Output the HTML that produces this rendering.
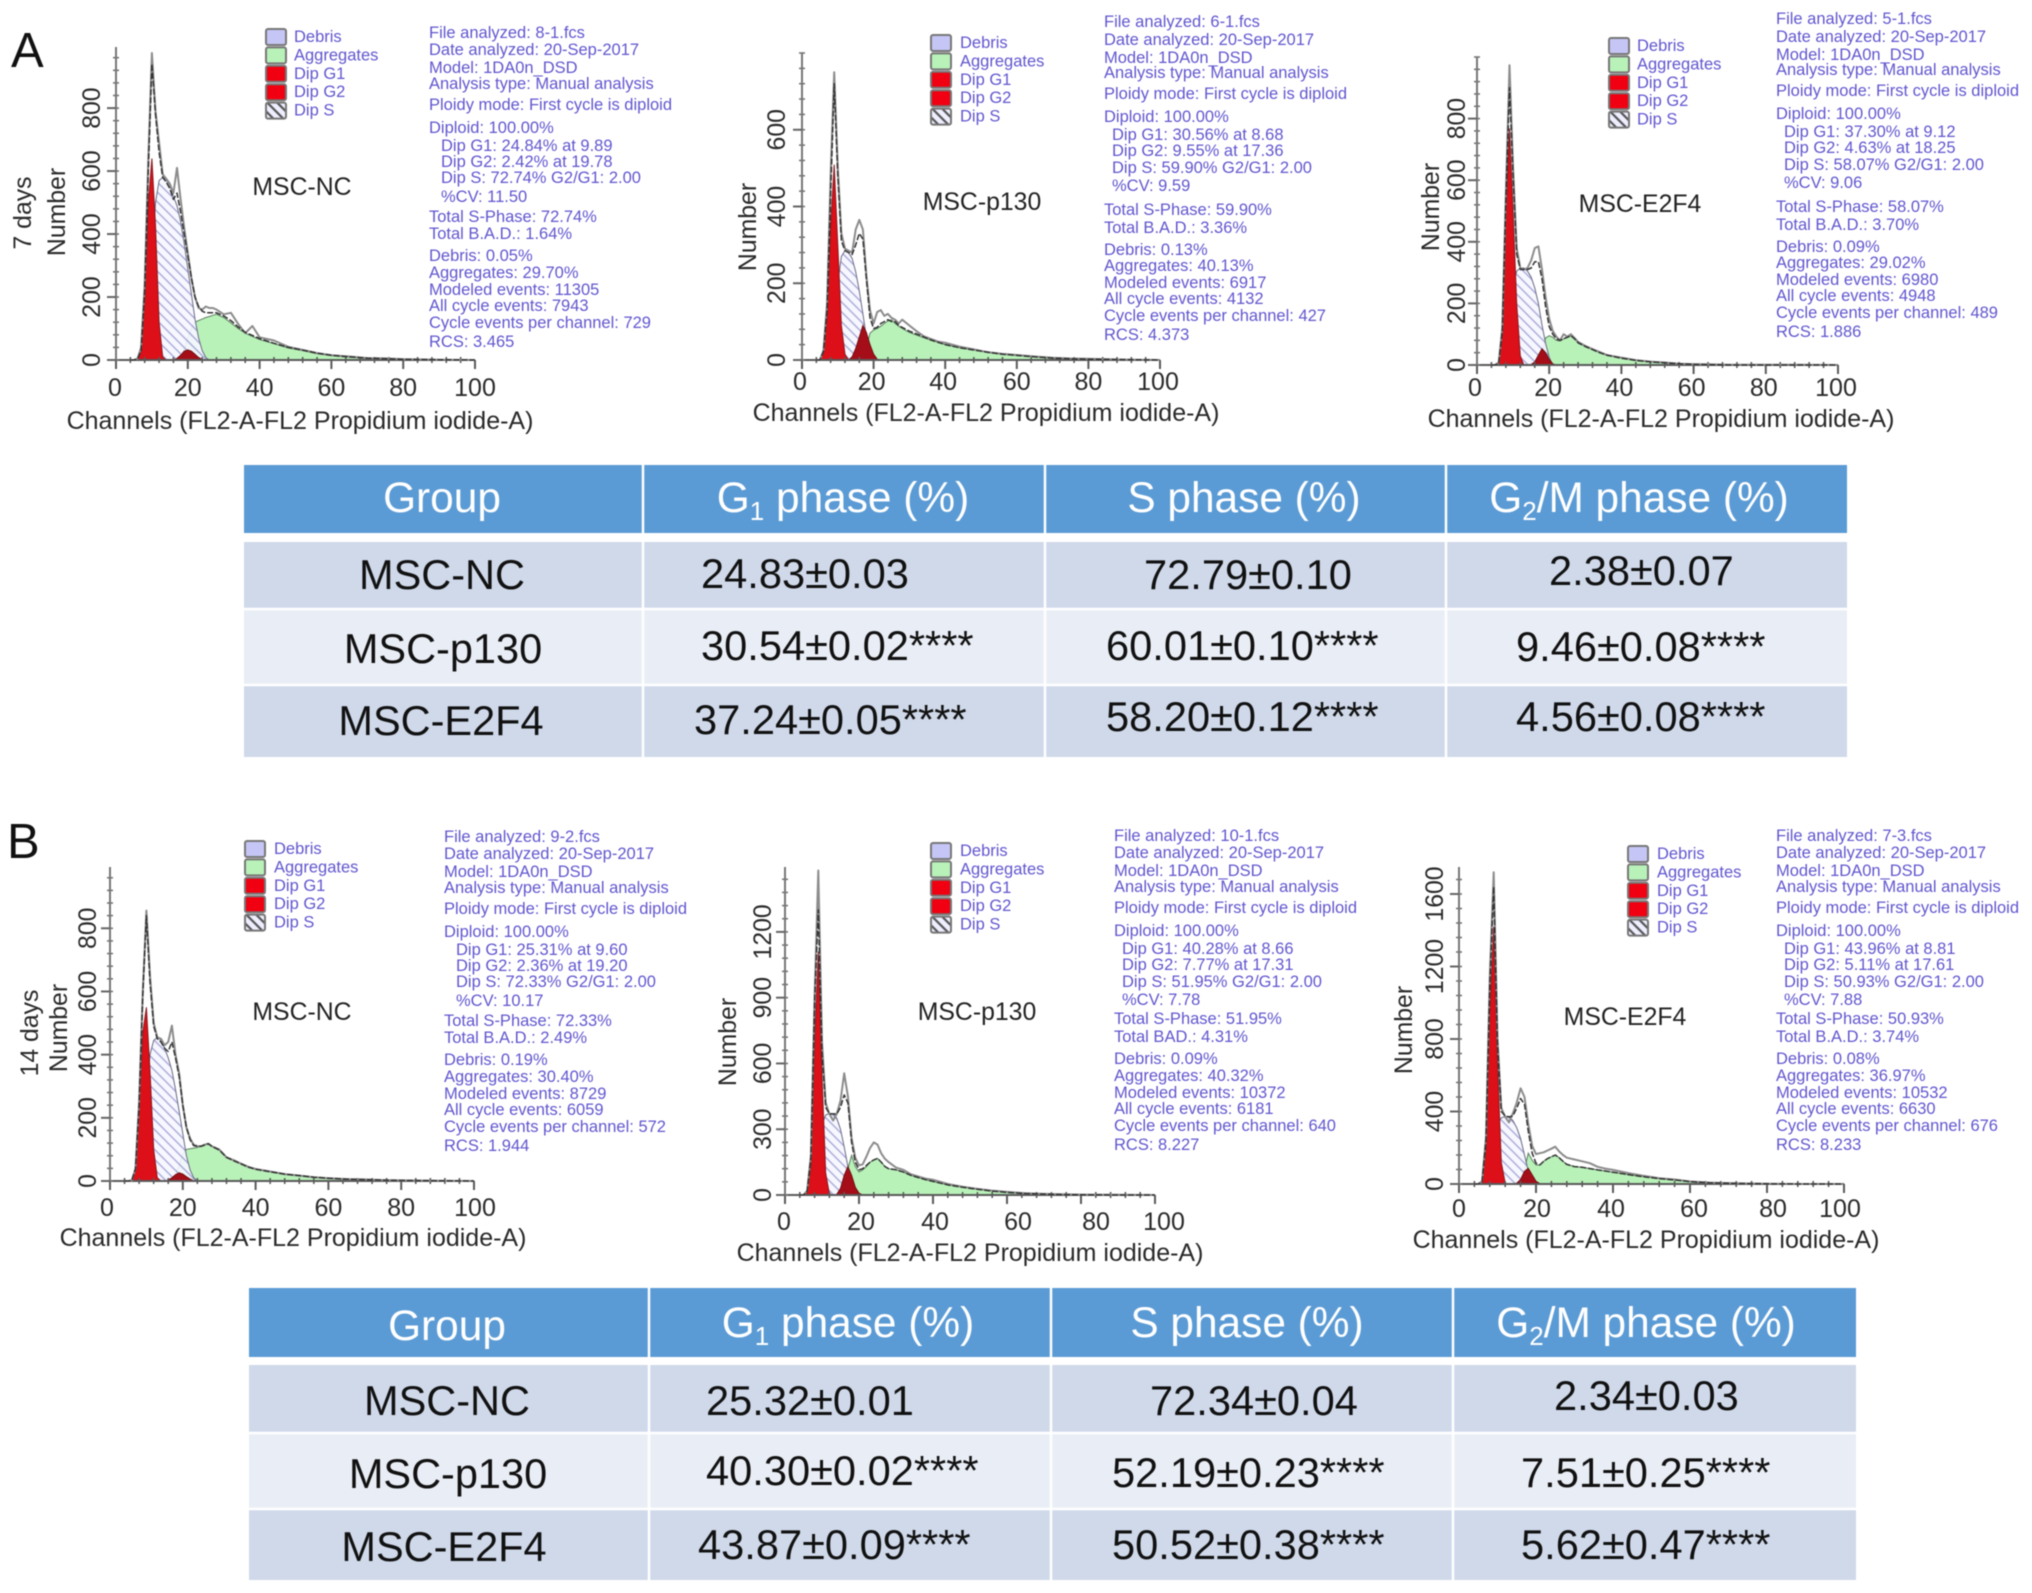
<!DOCTYPE html>
<html lang="en">
<head>
<meta charset="utf-8">
<title>Cell cycle flow cytometry panels</title>
<style>
html,body{margin:0;padding:0;background:#fff;}
svg{display:block;filter:blur(0.5px);font-family:"Liberation Sans",sans-serif;}
.info{font-size:16.5px;fill:#6156cf;}
.leg{font-size:16.5px;fill:#6156cf;}
.sw{stroke:#777;stroke-width:2;}
.name{font-size:24.8px;fill:#222;text-anchor:middle;}
.xt{font-size:25px;fill:#2a2a2a;text-anchor:middle;}
.yt{font-size:24.8px;fill:#2a2a2a;text-anchor:middle;}
.letter{font-size:49px;fill:#111;}
.th{font-size:42.4px;fill:#fff;text-anchor:middle;}
.rowh{font-size:41.5px;fill:#111;text-anchor:middle;}
.val{font-size:41.6px;fill:#111;}
</style>
</head>
<body>
<svg xmlns="http://www.w3.org/2000/svg" width="2032" height="1593" viewBox="0 0 2032 1593">
<defs>
<pattern id="hatch" width="7" height="7" patternUnits="userSpaceOnUse" patternTransform="rotate(45)">
<rect width="7" height="7" fill="#f6f6ff"/>
<line x1="0" y1="3.5" x2="7" y2="3.5" stroke="#9c9cd2" stroke-width="1.3"/>
</pattern>
<pattern id="hatch-leg" width="7" height="7" patternUnits="userSpaceOnUse" patternTransform="rotate(45)">
<rect width="7" height="7" fill="#eeeeff"/>
<line x1="0" y1="3.5" x2="7" y2="3.5" stroke="#555" stroke-width="2.2"/>
</pattern>
</defs>

<text class="letter" x="11" y="67">A</text>
<text class="letter" x="7" y="858">B</text>

<!-- Panel A1 -->
<g>
<g id="marks-a1"></g>
<text class="name" x="302" y="195">MSC-NC</text>
<text class="yt" transform="translate(65,212) rotate(-90)">Number</text>
<text class="yt" transform="translate(31,213) rotate(-90)">7 days</text>
<text class="xt" x="300" y="429">Channels (FL2-A-FL2 Propidium iodide-A)</text>
<g transform="translate(266,37)">
<g><rect class="sw" y="-8" width="20" height="16" rx="2" fill="#c6c6f6"/><text class="leg" x="28" y="5">Debris</text></g>
<g><rect class="sw" y="10.4" width="20" height="16" rx="2" fill="#b9f2b9"/><text class="leg" x="28" y="23.4">Aggregates</text></g>
<g><rect class="sw" y="28.8" width="20" height="16" rx="2" fill="#f00010"/><text class="leg" x="28" y="41.8">Dip G1</text></g>
<g><rect class="sw" y="47.2" width="20" height="16" rx="2" fill="#f00010"/><text class="leg" x="28" y="60.2">Dip G2</text></g>
<g><rect class="sw" y="65.6" width="20" height="16" rx="2" fill="url(#hatch-leg)"/><text class="leg" x="28" y="78.6">Dip S</text></g>
</g>
<text class="info" transform="translate(429,38)">
<tspan x="0" y="0">File analyzed: 8-1.fcs</tspan>
<tspan x="0" y="17">Date analyzed: 20-Sep-2017</tspan>
<tspan x="0" y="35">Model: 1DA0n_DSD</tspan>
<tspan x="0" y="51">Analysis type: Manual analysis</tspan>
<tspan x="0" y="72">Ploidy mode: First cycle is diploid</tspan>
<tspan x="0" y="95">Diploid: 100.00%</tspan>
<tspan x="12" y="113">Dip G1: 24.84% at 9.89</tspan>
<tspan x="12" y="129">Dip G2: 2.42% at 19.78</tspan>
<tspan x="12" y="145">Dip S: 72.74% G2/G1: 2.00</tspan>
<tspan x="12" y="164">%CV: 11.50</tspan>
<tspan x="0" y="184">Total S-Phase: 72.74%</tspan>
<tspan x="0" y="201">Total B.A.D.: 1.64%</tspan>
<tspan x="0" y="223">Debris: 0.05%</tspan>
<tspan x="0" y="240">Aggregates: 29.70%</tspan>
<tspan x="0" y="257">Modeled events: 11305</tspan>
<tspan x="0" y="273">All cycle  events: 7943</tspan>
<tspan x="0" y="290">Cycle events per channel: 729</tspan>
<tspan x="0" y="309">RCS: 3.465</tspan>
</text>
</g>

<!-- Panel A2 -->
<g>
<g id="marks-a2"></g>
<text class="name" x="982" y="210">MSC-p130</text>
<text class="yt" transform="translate(756,227) rotate(-90)">Number</text>
<text class="xt" x="986" y="421">Channels (FL2-A-FL2 Propidium iodide-A)</text>
<g transform="translate(931,43)">
<g><rect class="sw" y="-8" width="20" height="16" rx="2" fill="#c6c6f6"/><text class="leg" x="29" y="5">Debris</text></g>
<g><rect class="sw" y="10.4" width="20" height="16" rx="2" fill="#b9f2b9"/><text class="leg" x="29" y="23.4">Aggregates</text></g>
<g><rect class="sw" y="28.8" width="20" height="16" rx="2" fill="#f00010"/><text class="leg" x="29" y="41.8">Dip G1</text></g>
<g><rect class="sw" y="47.2" width="20" height="16" rx="2" fill="#f00010"/><text class="leg" x="29" y="60.2">Dip G2</text></g>
<g><rect class="sw" y="65.6" width="20" height="16" rx="2" fill="url(#hatch-leg)"/><text class="leg" x="29" y="78.6">Dip S</text></g>
</g>
<text class="info" transform="translate(1104,27)">
<tspan x="0" y="0">File analyzed: 6-1.fcs</tspan>
<tspan x="0" y="18">Date analyzed: 20-Sep-2017</tspan>
<tspan x="0" y="36">Model: 1DA0n_DSD</tspan>
<tspan x="0" y="51">Analysis type: Manual analysis</tspan>
<tspan x="0" y="72">Ploidy mode: First cycle is diploid</tspan>
<tspan x="0" y="95">Diploid: 100.00%</tspan>
<tspan x="8" y="113">Dip G1: 30.56% at 8.68</tspan>
<tspan x="8" y="129">Dip G2: 9.55% at 17.36</tspan>
<tspan x="8" y="146">Dip S: 59.90% G2/G1: 2.00</tspan>
<tspan x="8" y="164">%CV: 9.59</tspan>
<tspan x="0" y="188">Total S-Phase: 59.90%</tspan>
<tspan x="0" y="206">Total B.A.D.: 3.36%</tspan>
<tspan x="0" y="228">Debris: 0.13%</tspan>
<tspan x="0" y="244">Aggregates: 40.13%</tspan>
<tspan x="0" y="261">Modeled events: 6917</tspan>
<tspan x="0" y="277">All cycle events: 4132</tspan>
<tspan x="0" y="294">Cycle events per channel: 427</tspan>
<tspan x="0" y="313">RCS: 4.373</tspan>
</text>
</g>

<!-- Panel A3 -->
<g>
<g id="marks-a3"></g>
<text class="name" x="1640" y="212">MSC-E2F4</text>
<text class="yt" transform="translate(1439,207) rotate(-90)">Number</text>
<text class="xt" x="1661" y="427">Channels (FL2-A-FL2 Propidium iodide-A)</text>
<g transform="translate(1609,46)">
<g><rect class="sw" y="-8" width="20" height="16" rx="2" fill="#c6c6f6"/><text class="leg" x="28" y="5">Debris</text></g>
<g><rect class="sw" y="10.4" width="20" height="16" rx="2" fill="#b9f2b9"/><text class="leg" x="28" y="23.4">Aggregates</text></g>
<g><rect class="sw" y="28.8" width="20" height="16" rx="2" fill="#f00010"/><text class="leg" x="28" y="41.8">Dip G1</text></g>
<g><rect class="sw" y="47.2" width="20" height="16" rx="2" fill="#f00010"/><text class="leg" x="28" y="60.2">Dip G2</text></g>
<g><rect class="sw" y="65.6" width="20" height="16" rx="2" fill="url(#hatch-leg)"/><text class="leg" x="28" y="78.6">Dip S</text></g>
</g>
<text class="info" transform="translate(1776,24)">
<tspan x="0" y="0">File analyzed: 5-1.fcs</tspan>
<tspan x="0" y="18">Date analyzed: 20-Sep-2017</tspan>
<tspan x="0" y="36">Model: 1DA0n_DSD</tspan>
<tspan x="0" y="51">Analysis type: Manual analysis</tspan>
<tspan x="0" y="72">Ploidy mode: First cycle is diploid</tspan>
<tspan x="0" y="95">Diploid: 100.00%</tspan>
<tspan x="8" y="113">Dip G1: 37.30% at 9.12</tspan>
<tspan x="8" y="129">Dip G2: 4.63% at 18.25</tspan>
<tspan x="8" y="146">Dip S: 58.07% G2/G1: 2.00</tspan>
<tspan x="8" y="164">%CV: 9.06</tspan>
<tspan x="0" y="188">Total S-Phase: 58.07%</tspan>
<tspan x="0" y="206">Total B.A.D.: 3.70%</tspan>
<tspan x="0" y="228">Debris: 0.09%</tspan>
<tspan x="0" y="244">Aggregates: 29.02%</tspan>
<tspan x="0" y="261">Modeled events: 6980</tspan>
<tspan x="0" y="277">All cycle events: 4948</tspan>
<tspan x="0" y="294">Cycle events per channel: 489</tspan>
<tspan x="0" y="313">RCS: 1.886</tspan>
</text>
</g>

<!-- Table A -->
<g>
<rect x="244" y="465" width="1603" height="68" fill="#5b9bd5"/>
<rect x="244" y="542" width="1603" height="67" fill="#cfd9ea"/>
<rect x="244" y="609" width="1603" height="76" fill="#e9edf5"/>
<rect x="244" y="685" width="1603" height="72" fill="#cfd9ea"/>
<path d="M244 609H1847M244 685H1847M643 465V757M1045 465V757M1446 465V757" stroke="#fff" stroke-width="2.5" fill="none"/>
<text class="th" x="442" y="512">Group</text>
<text class="th" x="843" y="512">G<tspan font-size="26" dy="8">1</tspan><tspan dy="-8"> phase (%)</tspan></text>
<text class="th" x="1244" y="512">S phase (%)</text>
<text class="th" x="1639" y="512">G<tspan font-size="26" dy="8">2</tspan><tspan dy="-8">/M phase (%)</tspan></text>
<text class="rowh" x="442" y="589">MSC-NC</text>
<text class="rowh" x="443" y="663">MSC-p130</text>
<text class="rowh" x="441" y="735">MSC-E2F4</text>
<text class="val" x="701" y="588">24.83±0.03</text>
<text class="val" x="1144" y="589">72.79±0.10</text>
<text class="val" x="1549" y="585">2.38±0.07</text>
<text class="val" x="701" y="660">30.54±0.02****</text>
<text class="val" x="1106" y="660">60.01±0.10****</text>
<text class="val" x="1516" y="661">9.46±0.08****</text>
<text class="val" x="694" y="734">37.24±0.05****</text>
<text class="val" x="1106" y="731">58.20±0.12****</text>
<text class="val" x="1516" y="731">4.56±0.08****</text>
</g>

<!-- Panel B1 -->
<g>
<g id="marks-b1"></g>
<text class="name" x="302" y="1020">MSC-NC</text>
<text class="yt" transform="translate(67,1028) rotate(-90)">Number</text>
<text class="yt" transform="translate(38,1033) rotate(-90)">14 days</text>
<text class="xt" x="293" y="1246">Channels (FL2-A-FL2 Propidium iodide-A)</text>
<g transform="translate(245,849)">
<g><rect class="sw" y="-8" width="20" height="16" rx="2" fill="#c6c6f6"/><text class="leg" x="29" y="5">Debris</text></g>
<g><rect class="sw" y="10.4" width="20" height="16" rx="2" fill="#b9f2b9"/><text class="leg" x="29" y="23.4">Aggregates</text></g>
<g><rect class="sw" y="28.8" width="20" height="16" rx="2" fill="#f00010"/><text class="leg" x="29" y="41.8">Dip G1</text></g>
<g><rect class="sw" y="47.2" width="20" height="16" rx="2" fill="#f00010"/><text class="leg" x="29" y="60.2">Dip G2</text></g>
<g><rect class="sw" y="65.6" width="20" height="16" rx="2" fill="url(#hatch-leg)"/><text class="leg" x="29" y="78.6">Dip S</text></g>
</g>
<text class="info" transform="translate(444,842)">
<tspan x="0" y="0">File analyzed: 9-2.fcs</tspan>
<tspan x="0" y="17">Date analyzed: 20-Sep-2017</tspan>
<tspan x="0" y="35">Model: 1DA0n_DSD</tspan>
<tspan x="0" y="51">Analysis type: Manual analysis</tspan>
<tspan x="0" y="72">Ploidy mode: First cycle is diploid</tspan>
<tspan x="0" y="95">Diploid: 100.00%</tspan>
<tspan x="12" y="113">Dip G1: 25.31% at 9.60</tspan>
<tspan x="12" y="129">Dip G2: 2.36% at 19.20</tspan>
<tspan x="12" y="145">Dip S: 72.33% G2/G1: 2.00</tspan>
<tspan x="12" y="164">%CV: 10.17</tspan>
<tspan x="0" y="184">Total S-Phase: 72.33%</tspan>
<tspan x="0" y="201">Total B.A.D.: 2.49%</tspan>
<tspan x="0" y="223">Debris: 0.19%</tspan>
<tspan x="0" y="240">Aggregates: 30.40%</tspan>
<tspan x="0" y="257">Modeled events: 8729</tspan>
<tspan x="0" y="273">All cycle  events: 6059</tspan>
<tspan x="0" y="290">Cycle events per channel: 572</tspan>
<tspan x="0" y="309">RCS: 1.944</tspan>
</text>
</g>

<!-- Panel B2 -->
<g>
<g id="marks-b2"></g>
<text class="name" x="977" y="1020">MSC-p130</text>
<text class="yt" transform="translate(736,1042) rotate(-90)">Number</text>
<text class="xt" x="970" y="1261">Channels (FL2-A-FL2 Propidium iodide-A)</text>
<g transform="translate(931,851)">
<g><rect class="sw" y="-8" width="20" height="16" rx="2" fill="#c6c6f6"/><text class="leg" x="29" y="5">Debris</text></g>
<g><rect class="sw" y="10.4" width="20" height="16" rx="2" fill="#b9f2b9"/><text class="leg" x="29" y="23.4">Aggregates</text></g>
<g><rect class="sw" y="28.8" width="20" height="16" rx="2" fill="#f00010"/><text class="leg" x="29" y="41.8">Dip G1</text></g>
<g><rect class="sw" y="47.2" width="20" height="16" rx="2" fill="#f00010"/><text class="leg" x="29" y="60.2">Dip G2</text></g>
<g><rect class="sw" y="65.6" width="20" height="16" rx="2" fill="url(#hatch-leg)"/><text class="leg" x="29" y="78.6">Dip S</text></g>
</g>
<text class="info" transform="translate(1114,841)">
<tspan x="0" y="0">File analyzed: 10-1.fcs</tspan>
<tspan x="0" y="17">Date analyzed: 20-Sep-2017</tspan>
<tspan x="0" y="35">Model: 1DA0n_DSD</tspan>
<tspan x="0" y="51">Analysis type: Manual analysis</tspan>
<tspan x="0" y="72">Ploidy mode: First cycle is diploid</tspan>
<tspan x="0" y="95">Diploid: 100.00%</tspan>
<tspan x="8" y="113">Dip G1: 40.28% at 8.66</tspan>
<tspan x="8" y="129">Dip G2: 7.77% at 17.31</tspan>
<tspan x="8" y="146">Dip S: 51.95% G2/G1: 2.00</tspan>
<tspan x="8" y="164">%CV: 7.78</tspan>
<tspan x="0" y="183">Total S-Phase: 51.95%</tspan>
<tspan x="0" y="201">Total BAD.: 4.31%</tspan>
<tspan x="0" y="223">Debris: 0.09%</tspan>
<tspan x="0" y="240">Aggregates: 40.32%</tspan>
<tspan x="0" y="257">Modeled events: 10372</tspan>
<tspan x="0" y="273">All cycle events: 6181</tspan>
<tspan x="0" y="290">Cycle events per channel: 640</tspan>
<tspan x="0" y="309">RCS: 8.227</tspan>
</text>
</g>

<!-- Panel B3 -->
<g>
<g id="marks-b3"></g>
<text class="name" x="1625" y="1025">MSC-E2F4</text>
<text class="yt" transform="translate(1412,1030) rotate(-90)">Number</text>
<text class="xt" x="1646" y="1248">Channels (FL2-A-FL2 Propidium iodide-A)</text>
<g transform="translate(1628,854)">
<g><rect class="sw" y="-8" width="20" height="16" rx="2" fill="#c6c6f6"/><text class="leg" x="29" y="5">Debris</text></g>
<g><rect class="sw" y="10.4" width="20" height="16" rx="2" fill="#b9f2b9"/><text class="leg" x="29" y="23.4">Aggregates</text></g>
<g><rect class="sw" y="28.8" width="20" height="16" rx="2" fill="#f00010"/><text class="leg" x="29" y="41.8">Dip G1</text></g>
<g><rect class="sw" y="47.2" width="20" height="16" rx="2" fill="#f00010"/><text class="leg" x="29" y="60.2">Dip G2</text></g>
<g><rect class="sw" y="65.6" width="20" height="16" rx="2" fill="url(#hatch-leg)"/><text class="leg" x="29" y="78.6">Dip S</text></g>
</g>
<text class="info" transform="translate(1776,841)">
<tspan x="0" y="0">File analyzed: 7-3.fcs</tspan>
<tspan x="0" y="17">Date analyzed: 20-Sep-2017</tspan>
<tspan x="0" y="35">Model: 1DA0n_DSD</tspan>
<tspan x="0" y="51">Analysis type: Manual analysis</tspan>
<tspan x="0" y="72">Ploidy mode: First cycle is diploid</tspan>
<tspan x="0" y="95">Diploid: 100.00%</tspan>
<tspan x="8" y="113">Dip G1: 43.96% at 8.81</tspan>
<tspan x="8" y="129">Dip G2: 5.11% at 17.61</tspan>
<tspan x="8" y="146">Dip S: 50.93% G2/G1: 2.00</tspan>
<tspan x="8" y="164">%CV: 7.88</tspan>
<tspan x="0" y="183">Total S-Phase: 50.93%</tspan>
<tspan x="0" y="201">Total B.A.D.: 3.74%</tspan>
<tspan x="0" y="223">Debris: 0.08%</tspan>
<tspan x="0" y="240">Aggregates: 36.97%</tspan>
<tspan x="0" y="257">Modeled events: 10532</tspan>
<tspan x="0" y="273">All cycle events: 6630</tspan>
<tspan x="0" y="290">Cycle events per channel: 676</tspan>
<tspan x="0" y="309">RCS: 8.233</tspan>
</text>
</g>

<!-- Table B -->
<g>
<rect x="249" y="1288" width="1607" height="69" fill="#5b9bd5"/>
<rect x="249" y="1365" width="1607" height="68" fill="#cfd9ea"/>
<rect x="249" y="1433" width="1607" height="76" fill="#e9edf5"/>
<rect x="249" y="1509" width="1607" height="71" fill="#cfd9ea"/>
<path d="M249 1433H1856M249 1509H1856M649 1288V1580M1051 1288V1580M1453 1288V1580" stroke="#fff" stroke-width="2.5" fill="none"/>
<text class="th" x="447" y="1340">Group</text>
<text class="th" x="848" y="1337">G<tspan font-size="26" dy="8">1</tspan><tspan dy="-8"> phase (%)</tspan></text>
<text class="th" x="1247" y="1337">S phase (%)</text>
<text class="th" x="1646" y="1337">G<tspan font-size="26" dy="8">2</tspan><tspan dy="-8">/M phase (%)</tspan></text>
<text class="rowh" x="447" y="1415">MSC-NC</text>
<text class="rowh" x="448" y="1488">MSC-p130</text>
<text class="rowh" x="444" y="1561">MSC-E2F4</text>
<text class="val" x="706" y="1415">25.32±0.01</text>
<text class="val" x="1150" y="1415">72.34±0.04</text>
<text class="val" x="1554" y="1410">2.34±0.03</text>
<text class="val" x="706" y="1485">40.30±0.02****</text>
<text class="val" x="1112" y="1487">52.19±0.23****</text>
<text class="val" x="1521" y="1487">7.51±0.25****</text>
<text class="val" x="698" y="1559">43.87±0.09****</text>
<text class="val" x="1112" y="1559">50.52±0.38****</text>
<text class="val" x="1521" y="1559">5.62±0.47****</text>
</g>
</svg>

<script>
// Shared channel positions for every histogram series (entries past the end of a series read as 0)
const channels = [4,5,6,7,8,9,10,11,12,13,14,15,16,17,18,19,20,21,22,23,24,25,26,27,28,30,32,34,36,38,40,44,48,52,56,60,65,70,75,80,90,100];
const xTickLabels = [0,20,40,60,80,100];

// A: 7 days, MSC-NC
const a1Raw = [0,0,4,40,240,640,975,790,690,590,575,560,530,610,510,420,340,260,200,165,160,170,165,165,160,145,150,115,85,108,72,62,42,32,22,15,11,6,5,3,1,0];
const a1Fit = [0,0,3,30,220,600,940,780,660,580,565,545,510,530,470,400,330,260,200,170,155,150,150,150,150,140,125,105,88,78,68,53,40,31,22,15,10,6,4,2,1,0];
const a1G1 = [0,0,2,30,200,500,640,430,120,10];
const a1G2 = [0,0,0,0,0,0,0,0,0,0,0,0,0,5,15,28,32,28,18,8,2];
const a1S = [0,0,0,0,0,0,300,500,570,580,575,555,520,490,440,370,290,210,130,70,30,8];
const a1Agg = [0,0,0,0,0,0,0,0,0,0,0,0,0,0,10,35,70,100,120,125,130,135,138,142,145,135,118,100,85,75,65,52,38,30,20,14,9,5,3,2,1,0];
const a1YTicks = [0,200,400,600,800];

// A: 7 days, MSC-p130
const a2Raw = [0,0,25,150,480,750,500,330,290,285,280,340,365,340,220,130,95,125,130,115,120,110,105,95,105,90,75,62,55,48,45,35,28,20,16,13,9,6,4,3,1,0];
const a2Fit = [0,0,22,130,430,720,480,310,285,280,275,300,330,315,210,110,82,85,95,100,105,100,100,90,85,75,68,60,52,46,40,32,26,20,15,12,8,5,3,2,1,0];
const a2G1 = [0,2,20,120,350,509,300,90,15];
const a2G2 = [0,0,0,0,0,0,0,0,0,0,8,30,60,90,72,40,15,2];
const a2S = [0,0,0,0,0,100,200,270,285,280,265,230,180,120,60,15];
const a2Agg = [0,0,0,0,0,0,0,0,0,0,0,0,0,0,30,70,78,82,88,95,102,105,95,88,82,72,65,58,52,46,40,32,26,20,15,12,8,5,3,2,1,0];
const a2YTicks = [0,200,400,600];

// A: 7 days, MSC-E2F4
const a3Raw = [0,0,8,120,560,973,640,380,315,310,315,340,380,385,310,220,150,110,92,80,100,92,100,88,75,62,52,42,32,28,24,16,11,8,4,3,2,1,1,1,1,0];
const a3Fit = [0,0,6,110,540,900,610,360,310,310,310,315,335,335,280,190,125,100,85,80,85,90,95,85,72,60,50,40,32,27,22,15,10,7,4,2,1,0];
const a3G1 = [0,0,5,100,500,768,500,200,30];
const a3G2 = [0,0,0,0,0,0,0,0,0,0,0,2,10,32,53,40,18,4];
const a3S = [0,0,0,0,0,150,260,305,315,315,305,285,250,200,130,70,25];
const a3Agg = [0,0,0,0,0,0,0,0,0,0,0,0,0,0,40,88,95,90,80,78,85,90,95,85,72,60,50,40,32,27,22,15,10,7,4,2,1];
const a3YTicks = [0,200,400,600,800];

// B: 14 days, MSC-NC
const b1Raw = [0,0,2,40,250,600,856,650,500,455,450,430,440,492,400,340,240,170,135,115,110,110,115,118,110,100,75,66,55,45,38,30,22,17,12,9,6,5,3,2,1,0];
const b1Fit = [0,0,2,38,240,590,840,630,490,450,440,420,410,440,390,330,240,170,130,112,110,110,114,118,110,98,75,64,54,44,37,29,22,17,12,9,6,4,3,2,1,0];
const b1G1 = [0,0,2,40,220,470,550,350,100,10];
const b1G2 = [0,0,0,0,0,0,0,0,0,0,0,0,3,10,20,26,22,14,6,1];
const b1S = [0,0,0,0,0,0,250,400,445,455,445,420,390,350,290,220,150,80,35,10];
const b1Agg = [0,0,0,0,0,0,0,0,0,0,0,0,0,0,20,50,85,100,102,104,106,110,115,118,110,98,75,64,54,44,37,29,22,17,12,9,6,4,3,2,1];
const b1YTicks = [0,200,400,600,800];

// B: 14 days, MSC-p130
const b2Raw = [0,0,20,180,900,1480,700,420,370,340,370,430,555,450,260,170,135,140,175,215,240,230,190,165,150,125,115,95,85,75,70,50,38,28,20,14,8,5,3,2,1,0];
const b2Fit = [0,0,18,170,880,1300,650,400,370,370,370,400,456,420,240,150,115,120,135,150,160,167,150,130,120,115,105,90,80,70,62,46,35,26,18,12,7,4,2,1];
const b2G1 = [0,2,10,130,700,1110,550,100,5];
const b2G2 = [0,0,0,0,0,0,0,0,0,0,3,30,90,130,90,35,8,1];
const b2S = [0,0,0,0,0,200,320,365,372,370,350,300,220,130,60,15];
const b2Agg = [0,0,0,0,0,0,0,0,0,0,0,0,20,120,180,130,105,115,130,150,160,167,150,130,120,115,105,90,80,70,62,46,35,26,18,12,7,4,2,1];
const b2YTicks = [0,300,600,900,1200];

// B: 14 days, MSC-E2F4
const b3Raw = [0,0,15,260,1150,1720,800,420,370,340,390,450,528,480,330,210,165,170,175,185,195,206,180,160,145,135,125,115,95,85,78,60,45,32,25,14,8,5,3,1];
const b3Fit = [0,0,12,240,1100,1640,780,400,375,370,375,420,472,440,290,170,115,105,125,140,150,160,145,125,108,96,92,85,78,72,65,52,40,30,22,13,7,4,2,1];
const b3G1 = [0,2,10,200,950,1420,680,120,5];
const b3G2 = [0,0,0,0,0,0,0,0,0,0,0,5,25,70,86,50,15,2];
const b3S = [0,0,0,0,0,250,330,365,372,370,350,310,250,160,70,15];
const b3Agg = [0,0,0,0,0,0,0,0,0,0,0,0,10,80,170,130,105,105,125,140,150,160,145,125,108,96,92,85,78,72,65,52,40,30,22,13,7,4,2,1];
const b3YTicks = [0,400,800,1200,1600];

const SVG_NS = 'http://www.w3.org/2000/svg';

function make(parent, tag, attrs, text) {
  const el = document.createElementNS(SVG_NS, tag);
  for (const k in attrs) el.setAttribute(k, attrs[k]);
  if (text !== undefined) el.textContent = text;
  parent.appendChild(el);
  return el;
}

function drawPanel(id, layout, raw, fit, g1, g2, s, agg, yTicks) {
  const root = document.getElementById(id);
  const xScale = ch => layout.x0 + ch * (layout.x100 - layout.x0) / 100;
  const yScale = v => layout.y0 - (v / layout.yMax) * (layout.y0 - layout.yTop);
  const valueAt = (arr, i) => arr[i] || 0;

  const areaPoints = arr => {
    const pts = channels.map((ch, i) => xScale(ch).toFixed(1) + ',' + yScale(valueAt(arr, i)).toFixed(1));
    pts.unshift(xScale(channels[0]).toFixed(1) + ',' + yScale(0).toFixed(1));
    pts.push(xScale(100).toFixed(1) + ',' + yScale(0).toFixed(1));
    return pts.join(' ');
  };
  const linePoints = arr => channels.map((ch, i) => xScale(ch).toFixed(1) + ',' + yScale(valueAt(arr, i)).toFixed(1)).join(' ');

  const aggArea = make(root, 'polygon', {points: areaPoints(agg), fill: '#b9f2b9', stroke: '#5c7f60', 'stroke-width': 1});
  
  

  const sArea = make(root, 'polygon', {points: areaPoints(s), fill: 'url(#hatch)', 'fill-opacity': 0.92, stroke: '#6a6a88', 'stroke-width': 1});
  
  

  const g1Area = make(root, 'polygon', {points: areaPoints(g1), fill: '#dd0f18', stroke: '#8a1a1f', 'stroke-width': 1});
  
  

  const g2Area = make(root, 'polygon', {points: areaPoints(g2), fill: '#a50e18', stroke: '#701015', 'stroke-width': 1});
  
  

  // Axes
  const xAxis = make(root, 'line', {x1: xScale(0) - 8, y1: layout.y0, x2: xScale(100), y2: layout.y0, stroke: '#5a5a5a', 'stroke-width': 2});
  
  

  const yAxis = make(root, 'line', {x1: layout.x0, y1: layout.y0 + 8, x2: layout.x0, y2: layout.yTop, stroke: '#777', 'stroke-width': 2});
  
  

  for (let c = 0; c <= 100; c += 4) {
    const major = c % 20 === 0;
    const tick = make(root, 'line', {x1: xScale(c), y1: layout.y0 - (major ? 0 : 3), x2: xScale(c), y2: layout.y0 + (major ? 9 : 3), stroke: '#5a5a5a', 'stroke-width': major ? 2 : 1.6});
    
    
  }
  for (let v = 0; v <= layout.yMax; v += layout.yMinor) {
    const minor = make(root, 'line', {x1: layout.x0 - 3, y1: yScale(v), x2: layout.x0 + 3, y2: yScale(v), stroke: '#777', 'stroke-width': 1.6});
    
    
  }
  yTicks.forEach(v => {
    const tick = make(root, 'line', {x1: layout.x0 - 9, y1: yScale(v), x2: layout.x0, y2: yScale(v), stroke: '#666', 'stroke-width': 2});
    
    
    const label = make(root, 'text', {class: 'yt', transform: 'translate(' + layout.yLabelX + ',' + yScale(v) + ') rotate(-90)'}, String(v));
    
    
  });
  xTickLabels.forEach((v, i) => {
    const label = make(root, 'text', {class: 'xt', x: xScale(v) + layout.xLabelNudge[i], y: layout.xLabelY}, String(v));
    
    
  });

  const rawLine = make(root, 'polyline', {points: linePoints(raw), fill: 'none', stroke: '#8c8c8c', 'stroke-width': 2, 'stroke-linejoin': 'round'});
  
  

  const fitLine = make(root, 'polyline', {points: linePoints(fit), fill: 'none', stroke: '#333', 'stroke-width': 1.5, 'stroke-dasharray': '6 2', 'stroke-linejoin': 'round'});
  
  
}

drawPanel('marks-a1', {x0:116, x100:475, y0:360, yTop:47, yMax:994, yMinor:40, yLabelX:100, xLabelY:396, xLabelNudge:[-1,0,0,0,0,0]}, a1Raw, a1Fit, a1G1, a1G2, a1S, a1Agg, a1YTicks);
drawPanel('marks-a2', {x0:802, x100:1160, y0:360, yTop:53, yMax:800, yMinor:40, yLabelX:785, xLabelY:390, xLabelNudge:[-2,-2,-2,0,0,-2]}, a2Raw, a2Fit, a2G1, a2G2, a2S, a2Agg, a2YTicks);
drawPanel('marks-a3', {x0:1477, x100:1838, y0:365, yTop:57, yMax:1000, yMinor:40, yLabelX:1465, xLabelY:396, xLabelNudge:[-2,-1,-2,-2,-2,-2]}, a3Raw, a3Fit, a3G1, a3G2, a3S, a3Agg, a3YTicks);
drawPanel('marks-b1', {x0:110, x100:474, y0:1181, yTop:867, yMax:994, yMinor:40, yLabelX:96, xLabelY:1216, xLabelNudge:[-3,0,0,0,0,1]}, b1Raw, b1Fit, b1G1, b1G2, b1S, b1Agg, b1YTicks);
drawPanel('marks-b2', {x0:785, x100:1155, y0:1195, yTop:867, yMax:1496, yMinor:60, yLabelX:771, xLabelY:1230, xLabelNudge:[-1,2,2,11,15,9]}, b2Raw, b2Fit, b2G1, b2G2, b2S, b2Agg, b2YTicks);
drawPanel('marks-b3', {x0:1459, x100:1844, y0:1184, yTop:867, yMax:1749, yMinor:80, yLabelX:1443, xLabelY:1217, xLabelNudge:[0,1,-2,4,6,-4]}, b3Raw, b3Fit, b3G1, b3G2, b3S, b3Agg, b3YTicks);
</script>
</body>
</html>
